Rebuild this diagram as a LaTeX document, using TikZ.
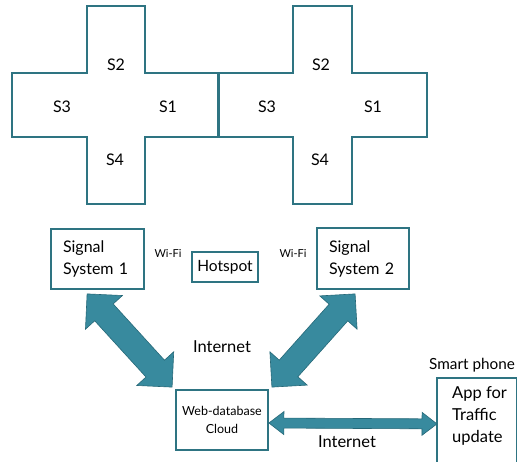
\documentclass[tikz,border=0pt]{standalone}
\usepackage{fontspec}
\setmainfont{Lato}
\usetikzlibrary{calc}
\definecolor{roadcol}{RGB}{46,116,130}
\definecolor{arrowfill}{RGB}{56,138,158}
\definecolor{arrowedge}{RGB}{38,104,120}
% #1 = tip A, #2 = tip B, #3 = head length, #4 = head half width, #5 = shaft half width
\newcommand\fatdarrow[5]{%
  \draw[fatarrow] (#1)
   -- ($(#1)!#3!(#2)!#4!90:(#2)$)
   -- ($(#1)!#3!(#2)!#5!90:(#2)$)
   -- ($(#2)!#3!(#1)!#5!-90:(#1)$)
   -- ($(#2)!#3!(#1)!#4!-90:(#1)$)
   -- (#2)
   -- ($(#2)!#3!(#1)!#4!90:(#1)$)
   -- ($(#2)!#3!(#1)!#5!90:(#1)$)
   -- ($(#1)!#3!(#2)!#5!-90:(#2)$)
   -- ($(#1)!#3!(#2)!#4!-90:(#2)$)
   -- cycle;}
\begin{document}
\begin{tikzpicture}[x=1pt,y=1pt,line join=miter,
  road/.style={draw=roadcol,line width=1.8pt},
  box/.style={draw=roadcol,line width=1.8pt,fill=white},
  fatarrow/.style={fill=arrowfill,draw=arrowedge,line width=0.6pt},
  lbl/.style={inner sep=0pt,font=\fontsize{16}{22}\selectfont},
  small/.style={inner sep=0pt,font=\fontsize{11}{13}\selectfont}]
\useasboundingbox (0,0) rectangle (517,461);
\clip (0,0) rectangle (517,461);
\fill[white] (0,0) rectangle (517,461);

% crossings
\draw[road] (87,455) -- (145,455) -- (145,388) -- (219,388) -- (219,324) -- (145,324)
  -- (145,257) -- (87,257) -- (87,324) -- (12,324) -- (12,388) -- (87,388) -- cycle;
\draw[road] (293,455) -- (352,455) -- (352,388) -- (427,388) -- (427,324) -- (352,324)
  -- (352,257) -- (293,257) -- (293,324) -- (218,324) -- (218,388) -- (293,388) -- cycle;

\node[lbl] (c1s2) at (116,396) {S2};
\node[lbl] (c1s3) at (62,354) {S3};
\node[lbl] (c1s1) at (168,354) {S1};
\node[lbl] (c1s4) at (115,301) {S4};
\node[lbl] (c2s2) at (321,396) {S2};
\node[lbl] (c2s3) at (267,354) {S3};
\node[lbl] (c2s1) at (373,354) {S1};
\node[lbl] (c2s4) at (320,301) {S4};

% boxes
\node[box,lbl,text width=69pt,inner xsep=12pt,inner ysep=0pt,minimum height=60pt,align=left]
  (ss1) at (97.5,202) {Signal\\System 1};
\node[box,lbl,text width=68pt,inner xsep=12pt,inner ysep=0pt,minimum height=61pt,align=left]
  (ss2) at (363,202.5) {Signal\\System 2};
\node[box,inner sep=0pt,minimum width=66pt,minimum height=30pt,font=\fontsize{15.5}{18}\selectfont]
  (hot) at (225,194) {Hotspot};
\node[box,inner sep=0pt,minimum width=92pt,minimum height=60pt,align=center,font=\fontsize{12.5}{18}\selectfont]
  (cloud) at (222,41) {Web-database\\Cloud};
\node[box,inner sep=0pt,minimum width=80pt,minimum height=94pt,anchor=north west]
  (phone) at (436,84) {};
\node[lbl,anchor=west,align=left,font=\fontsize{16.5}{22}\selectfont] (app) at (452,45) {App for\\Traffic\\update};
\node[lbl,anchor=west,font=\fontsize{15.3}{18}\selectfont] (sp) at (429,96) {Smart phone};

\node[small] (wifi1) at (168,208) {Wi-Fi};
\node[small] (wifi2) at (293,208) {Wi-Fi};
\node[lbl,font=\fontsize{16.5}{20}\selectfont] (inet1) at (222,114) {Internet};
\node[lbl,font=\fontsize{16.5}{20}\selectfont] (inet2) at (347,19) {Internet};

% fat double arrows
\coordinate (a1) at ($(ss1.south west)+(37,-4)$);
\coordinate (b1) at ($(cloud.north west)+(-3,2)$);
\coordinate (a2) at ($(ss2.south west)+(39,-4)$);
\coordinate (b2) at ($(cloud.north east)+(3,2)$);
\coordinate (a3) at ($(cloud.east)+(0,-3)$);
\coordinate (b3) at ($(phone.west)+(1,1)$);
\fatdarrow{a1}{b1}{25pt}{25pt}{12.5pt}
\fatdarrow{a2}{b2}{25pt}{25pt}{12.5pt}
\fatdarrow{a3}{b3}{15pt}{11.5pt}{5pt}
\end{tikzpicture}
\end{document}
